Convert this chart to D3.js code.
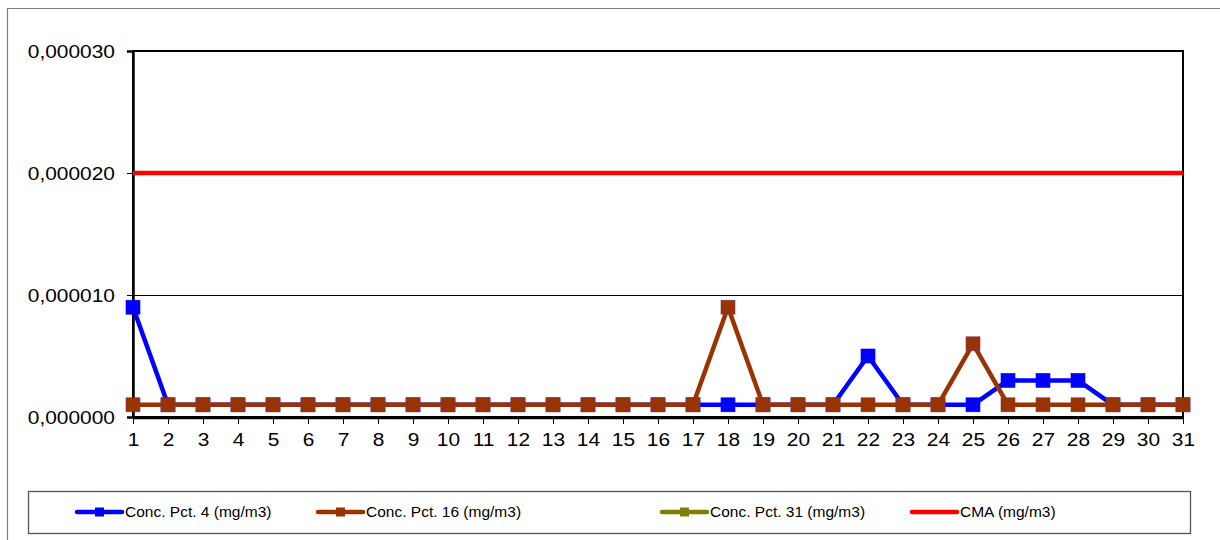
<!DOCTYPE html>
<html>
<head>
<meta charset="utf-8">
<script src="https://cdn.jsdelivr.net/npm/d3@7/dist/d3.min.js"></script>
<style>
  body { margin: 0; background: #fff; }
  svg { display: block; }
  text { font-family: Arial, 'Liberation Sans', sans-serif; }
</style>
</head>
<body>
<div id="chart"></div>
<script>
var days = [1,2,3,4,5,6,7,8,9,10,11,12,13,14,15,16,17,18,19,20,21,22,23,24,25,26,27,28,29,30,31];

var pct4  = [0.000009,0.000001,0.000001,0.000001,0.000001,0.000001,0.000001,0.000001,0.000001,0.000001,
             0.000001,0.000001,0.000001,0.000001,0.000001,0.000001,0.000001,0.000001,0.000001,0.000001,
             0.000001,0.000005,0.000001,0.000001,0.000001,0.000003,0.000003,0.000003,0.000001,0.000001,0.000001];
var pct16 = [0.000001,0.000001,0.000001,0.000001,0.000001,0.000001,0.000001,0.000001,0.000001,0.000001,
             0.000001,0.000001,0.000001,0.000001,0.000001,0.000001,0.000001,0.000009,0.000001,0.000001,
             0.000001,0.000001,0.000001,0.000001,0.000006,0.000001,0.000001,0.000001,0.000001,0.000001,0.000001];
var pct31 = [];   // no values for this point
var cma   = 0.000020;

var y_ticks = [0, 0.000010, 0.000020, 0.000030];
var series_names = ['Conc. Pct. 4 (mg/m3)', 'Conc. Pct. 16 (mg/m3)', 'Conc. Pct. 31 (mg/m3)', 'CMA (mg/m3)'];

var chart_width  = 1220;
var chart_height = 540;
var plot_left = 133, plot_right = 1183, plot_top = 51, plot_bottom = 417;

var colors = ['#0000ff', '#993300', '#808000', '#ff0000'];

var ro = d3.formatLocale({ decimal: ',', thousands: '.', grouping: [3], currency: ['', ''] });
var y_format = ro.format('.6f');

var svg = d3.select('#chart')
          .append('svg')
          .attr('width', chart_width)
          .attr('height', chart_height);

// outer chart border (runs off the page right and bottom)
svg.append('path')
   .attr('d', 'M7.5,' + (chart_height + 5) + 'V8.5H' + (chart_width + 5))
   .attr('fill', 'none')
   .attr('stroke', '#808080')
   .attr('stroke-width', 1.2);

var x_scale = d3.scalePoint()
              .domain(days)
              .range([plot_left, plot_right]);

var y_scale = d3.scaleLinear()
              .domain([0, 0.000030])
              .range([plot_bottom, plot_top]);

// gridlines
svg.selectAll('.grid')
 .data(y_ticks.slice(1, 3))
 .enter()
 .append('line')
 .attr('x1', plot_left)
 .attr('x2', plot_right)
 .attr('y1', function(d){ return y_scale(d) + 0.5; })
 .attr('y2', function(d){ return y_scale(d) + 0.5; })
 .attr('stroke', '#000')
 .attr('stroke-width', 1);

// plot border
svg.append('rect')
 .attr('x', plot_left)
 .attr('y', plot_top)
 .attr('width', plot_right - plot_left)
 .attr('height', plot_bottom - plot_top)
 .attr('fill', 'none')
 .attr('stroke', '#000')
 .attr('stroke-width', 2);

var y_axis = d3.axisLeft(y_scale)
             .tickValues(y_ticks)
             .tickFormat(y_format)
             .tickSize(6)
             .tickPadding(10.4);

var gy = svg.append('g')
  .attr('transform', 'translate(' + plot_left + ',0)')
  .call(y_axis);
gy.select('.domain').attr('stroke', '#000').attr('stroke-width', 2.5);
gy.selectAll('.tick line').attr('stroke', '#000');
gy.selectAll('.tick text')
  .attr('font-size', 19)
  .attr('font-family', 'Arial, Liberation Sans, sans-serif')
  .attr('transform', 'scale(1.1,1)')
  .attr('fill', '#000');

var x_axis = d3.axisBottom(x_scale)
             .tickSize(6)
             .tickPadding(9);

var gx = svg.append('g')
  .attr('transform', 'translate(0,' + (plot_bottom + 1) + ')')
  .call(x_axis);
gx.select('.domain').attr('stroke', '#000').attr('stroke-width', 2.5)
  .attr('d', 'M' + plot_left + ',0H' + plot_right);
gx.selectAll('.tick line').attr('stroke', '#000');
gx.selectAll('.tick text')
  .attr('font-size', 19)
  .attr('font-family', 'Arial, Liberation Sans, sans-serif')
  .attr('transform', 'scale(1.1,1)')
  .attr('fill', '#000');

var line = d3.line()
  .defined(function(d){ return d != null; })
  .x(function(d, i){ return x_scale(days[i]); })
  .y(function(d){ return y_scale(d); });

var series = [pct4, pct16, pct31];

series.forEach(function(values, k){
  svg.append('path')
   .datum(values)
   .attr('d', line)
   .attr('fill', 'none')
   .attr('stroke', colors[k])
   .attr('stroke-width', 4.5)
   .attr('stroke-linejoin', 'round');

  svg.selectAll('.m' + k)
   .data(values)
   .enter()
   .append('rect')
   .attr('x', function(d, i){ return x_scale(days[i]) - 7; })
   .attr('y', function(d){ return y_scale(d) - 7; })
   .attr('width', 14)
   .attr('height', 14)
   .attr('fill', colors[k])
   .attr('stroke', k == 1 ? '#7a3a70' : colors[k])
   .attr('stroke-width', 0.6);
});

// CMA limit
svg.append('line')
 .attr('x1', plot_left)
 .attr('x2', plot_right)
 .attr('y1', y_scale(cma))
 .attr('y2', y_scale(cma))
 .attr('stroke', colors[3])
 .attr('stroke-width', 4.5);

// legend
svg.append('rect')
 .attr('x', 28.5)
 .attr('y', 491.5)
 .attr('width', 1162)
 .attr('height', 42)
 .attr('fill', '#fff')
 .attr('stroke', '#555')
 .attr('stroke-width', 1.3);

var legend_x = [77, 318, 662, 912];

var items = svg.selectAll('.legend')
 .data(series_names)
 .enter()
 .append('g')
 .attr('transform', function(d, i){ return 'translate(' + legend_x[i] + ',512)'; });

items.append('line')
 .attr('x1', 0)
 .attr('x2', 45)
 .attr('stroke', function(d, i){ return colors[i]; })
 .attr('stroke-width', 4.5)
 .attr('stroke-linecap', 'round');

items.filter(function(d, i){ return i < 3; })
 .append('rect')
 .attr('x', 18)
 .attr('y', -4.5)
 .attr('width', 9)
 .attr('height', 9)
 .attr('fill', function(d, i){ return colors[i]; });

items.append('text')
 .text(function(d){ return d; })
 .attr('x', 48)
 .attr('dy', '0.35em')
 .attr('font-size', 15.5)
 .attr('fill', '#000');
</script>
</body>
</html>
